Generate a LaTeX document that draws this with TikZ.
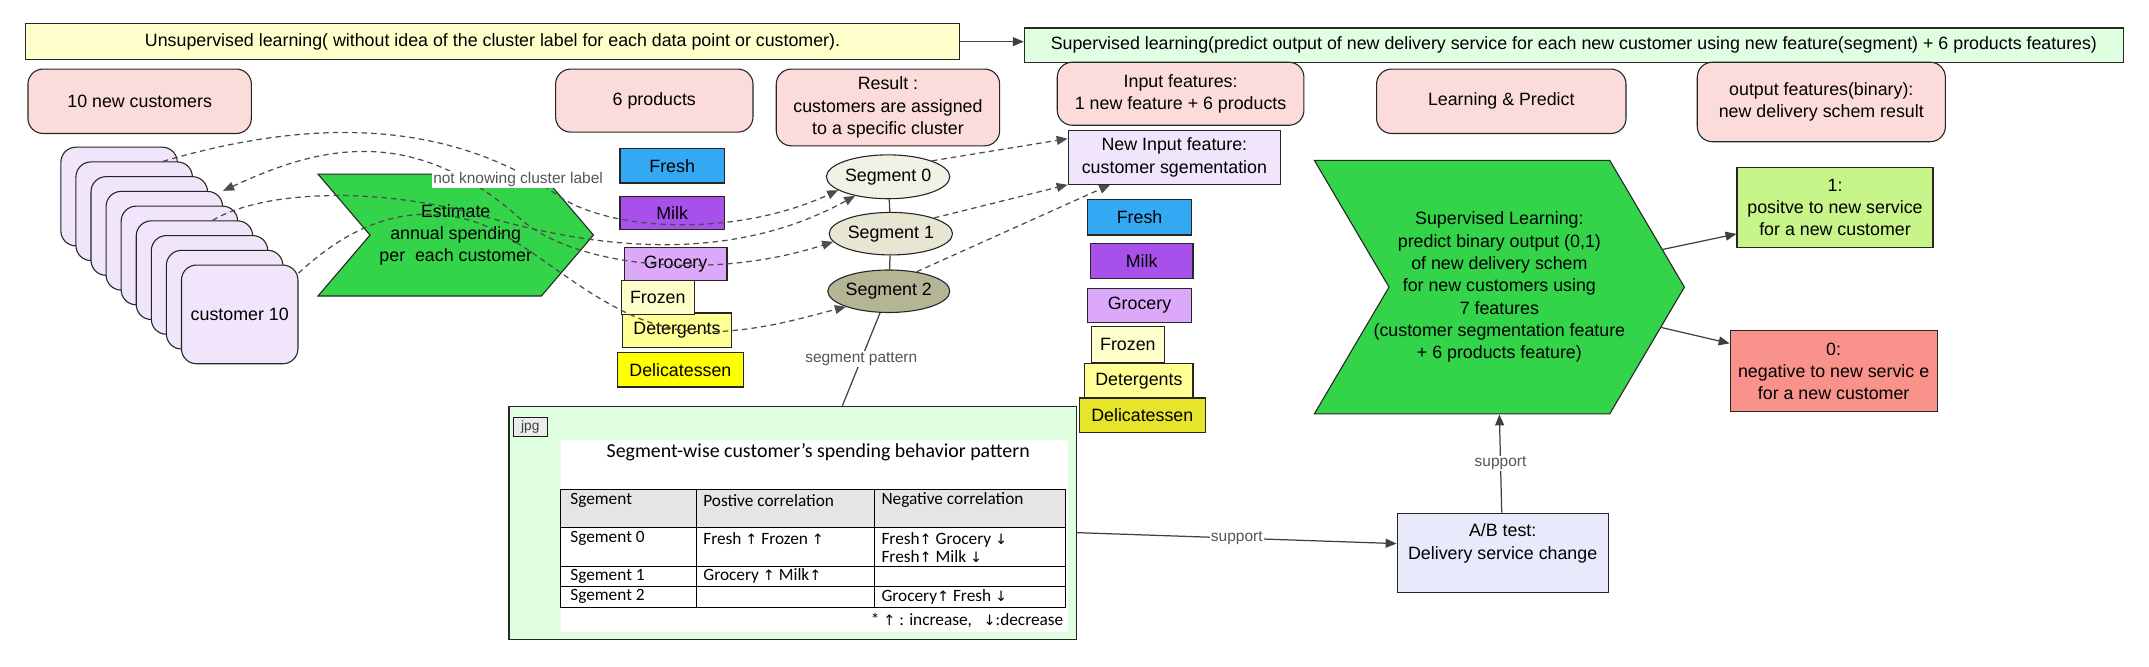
\documentclass[tikz,border=0pt]{standalone}
\usepackage{fontspec}
\setmainfont{Liberation Sans}
\newfontfamily\tabfont{Carlito}
\newfontfamily\arrfont{DejaVu Sans}
\usepackage{tikz}
\usetikzlibrary{positioning, arrows.meta, shapes.symbols, shapes.geometric}

\definecolor{pinkbox}{HTML}{FCDCDA}
\definecolor{lavbox}{HTML}{F1E5FB}
\definecolor{chev}{HTML}{33D44A}
\definecolor{unsup}{HTML}{FFFFCC}
\definecolor{supbar}{HTML}{E0FEE0}
\definecolor{fresh}{HTML}{33A9F4}
\definecolor{milk}{HTML}{A851EA}
\definecolor{grocery}{HTML}{DCA8F9}
\definecolor{frozen}{HTML}{FFFFCC}
\definecolor{deterg}{HTML}{FFFF94}
\definecolor{deli}{HTML}{FFFF00}
\definecolor{delib}{HTML}{E6E52C}
\definecolor{segA}{HTML}{F1F1E5}
\definecolor{segB}{HTML}{E6E6D3}
\definecolor{segC}{HTML}{B3B595}
\definecolor{posbox}{HTML}{C7F58A}
\definecolor{negbox}{HTML}{F8928A}
\definecolor{abbox}{HTML}{E8EAFB}
\definecolor{lblgray}{HTML}{555555}

\newcommand{\incr}{{\arrfont\fontsize{10.5}{10.5}\selectfont ↑}}
\newcommand{\decr}{{\arrfont\fontsize{10.5}{10.5}\selectfont ↓}}

\begin{document}
\begin{tikzpicture}[x=1pt,y=-1pt,
		font=\fontsize{13}{16.3}\selectfont,
		>={Triangle[length=8pt,width=6.5pt]},
		box/.style={draw=black!85,line width=.8pt,inner sep=0pt,align=center,anchor=north west},
		pinky/.style={box,fill=pinkbox,rounded corners=11pt},
		card/.style={box,fill=lavbox,rounded corners=11pt,minimum width=85,minimum height=72},
		prod/.style={box,line width=.9pt},
		seg/.style={ellipse,draw=black!85,line width=.8pt,inner sep=0pt},
		chevron/.style={signal,signal from=west,signal to=east,draw=black!85,fill=chev,line width=.8pt,align=center,inner sep=0pt},
		dashline/.style={draw=black!70,line width=.9pt,dash pattern=on 4pt off 3pt},
		link/.style={draw=black!75,line width=.9pt},
		lbl/.style={font=\fontsize{11.3}{13}\selectfont,text=lblgray,fill=white,inner sep=1pt},
		cell/.style={font=\tabfont\fontsize{12.6}{13.5}\selectfont,anchor=west,inner sep=0pt,align=left}]
	\useasboundingbox (0,0) rectangle (1568,486);

	% top bars
	\node[box,fill=unsup,minimum width=682,minimum height=26] (unsup) at (18,17) {Unsupervised learning( without idea of the cluster label for each data point or customer).};
	\node[box,fill=supbar,minimum width=802,minimum height=25] (sup) at (747,20) {Supervised learning(predict output of new delivery service for each new customer using new feature(segment) + 6 products features)};
	\draw[link,->] (unsup.east) -- (unsup.east -| sup.west);

	% headings
	\node[pinky,minimum width=163,minimum height=47] (ncust) at (20,50) {10 new customers};
	\node[pinky,minimum width=144,minimum height=46] (nprod) at (405,50) {6 products};
	\node[pinky,minimum width=163,minimum height=56] (result) at (566,50) {Result :\\customers are assigned\\to a specific cluster};
	\node[pinky,minimum width=180,minimum height=46] (infeat) at (771,45) {Input features:\\1 new feature + 6 products};
	\node[pinky,minimum width=182,minimum height=47] (lp) at (1004,50) {Learning \& Predict};
	\node[pinky,minimum width=181,minimum height=58] (outfeat) at (1238,45) {output features(binary):\\new delivery schem result};

	% customers
	\node[card] (c1) at (44,107) {};
	\node[card] (c2) at ([shift={(11,10.75)}]c1.north west) {};
	\node[card] (c3) at ([shift={(11,10.75)}]c2.north west) {};
	\node[card] (c4) at ([shift={(11,10.75)}]c3.north west) {};
	\node[card] (c5) at ([shift={(11,10.75)}]c4.north west) {};
	\node[card] (c6) at ([shift={(11,10.75)}]c5.north west) {};
	\node[card] (c7) at ([shift={(11,10.75)}]c6.north west) {};
	\node[card] (c8) at ([shift={(11,10.75)}]c7.north west) {};
	\node[card] (c9) at ([shift={(11,10.75)}]c8.north west) {customer 10};

	\node[chevron,minimum width=201,minimum height=89,signal pointer angle=99] (est) at (332.5,171.5) {Estimate\\annual spending\\per\ \ each customer};

	% products
	\node[prod,fill=fresh,minimum width=76,minimum height=25] (fresh) at (452,108) {Fresh};
	\node[prod,fill=milk,minimum width=76,minimum height=24] (milk) at (452,143) {Milk};
	\node[prod,fill=grocery,minimum width=75,minimum height=24] (groc) at (455,180) {Grocery};
	\node[prod,fill=deterg,minimum width=79,minimum height=25] (det) at (454,228) {Detergents};
	\node[prod,fill=frozen,minimum width=53,minimum height=25] (froz) at (453,204) {Frozen};
	\node[prod,fill=deli,minimum width=92,minimum height=25] (deli) at (450,257) {Delicatessen};

	% clusters
	\node[seg,fill=segA,minimum width=90,minimum height=32] (s0) at (648,129) {Segment 0};
	\node[seg,fill=segB,minimum width=90,minimum height=31] (s1) at (650,170.5) {Segment 1};
	\node[seg,fill=segC,minimum width=89,minimum height=31] (s2) at (648.5,212.5) {Segment 2};
	\draw[link] (s0) -- (s1) (s1) -- (s2);

	% new features
	\node[box,fill=lavbox,minimum width=155,minimum height=39] (nif) at (779,95) {New Input feature:\\customer sgementation};
	\node[prod,fill=fresh,minimum width=76,minimum height=26] (fresh2) at (793,145) {Fresh};
	\node[prod,fill=milk,minimum width=75,minimum height=26] (milk2) at (795,177) {Milk};
	\node[prod,fill=grocery,minimum width=76,minimum height=25] (groc2) at (793,210) {Grocery};
	\node[prod,fill=frozen,minimum width=53,minimum height=26] (froz2) at (796,238) {Frozen};
	\node[prod,fill=deterg,minimum width=79,minimum height=25] (det2) at (791,265) {Detergents};
	\node[prod,fill=delib,minimum width=92,minimum height=25] (deli2) at (787,290) {Delicatessen};

	% supervised part
	\node[chevron,inner xsep=-12pt,minimum width=270,minimum height=185,signal pointer angle=119] (sl) at (1094,209.5) {Supervised Learning:\\predict binary output (0,1)\\of new delivery schem\\for new customers using\\7 features\\(customer segmentation feature\\+ 6 products feature)};
	\node[box,fill=posbox,minimum width=143,minimum height=58] (pos) at (1267,122) {1:\\positve to new service\\for a new customer};
	\node[box,fill=negbox,minimum width=151,minimum height=59] (neg) at (1262,241) {0:\\negative to new servic e\\for a new customer};
	\draw[link,->] (sl.13) -- (pos.195);
	\draw[link,->] (sl.-14) -- (neg.165);
	\node[box,fill=abbox,minimum width=154,minimum height=58] (ab) at (1019,374) {A/B test:\\Delivery service change\\ \mbox{}};
	\draw[link,->] (ab) -- node[lbl] {support} (sl.south);

	% pattern picture
	\node[box,fill=supbar,minimum width=414,minimum height=170] (jpg) at (371,296) {};
	\fill[white] (409,321) rectangle (779,461);
	\node[box,fill=black!8,draw=black!90,minimum width=25,minimum height=14,font=\fontsize{10}{10}\selectfont,text=black!75] (tag) at (374,304) {jpg};
	\node[font=\tabfont\fontsize{14.5}{17}\selectfont] (ttl) at (597,330) {Segment-wise customer’s spending behavior pattern};
	\fill[black!10] (409,357) rectangle (777,385);
	\draw[line width=.6pt] (409,357) rectangle (777,443);
	\draw[line width=.6pt] (409,385) -- (777,385) (409,413) -- (777,413) (409,428) -- (777,428)
		(508,357) -- (508,443) (638,357) -- (638,443);
	\node[cell] (h1) at (416,365) {Sgement};
	\node[cell] (h2) at (513,365) {Postive correlation};
	\node[cell] (h3) at (643,365) {Negative correlation};
	\node[cell] (r0a) at (416,393) {Sgement 0};
	\node[cell] (r0b) at (513,393) {Fresh \incr{} Frozen \incr};
	\node[cell] (r0c) at (643,399.5) {Fresh\incr{} Grocery \decr\\Fresh\incr{} Milk \decr};
	\node[cell] (r1a) at (416,420.5) {Sgement 1};
	\node[cell] (r1b) at (513,420.5) {Grocery \incr{} Milk\incr};
	\node[cell] (r2a) at (416,435.5) {Sgement 2};
	\node[cell] (r2c) at (643,435.5) {Grocery\incr{} Fresh \decr};
	\node[cell,anchor=east] (note) at (776,452.5) {* \incr{} : increase,\ \ \ \decr:decrease};

	\draw[link] (s2) -- node[lbl] {segment pattern} (jpg.67);
	\draw[link,->] (jpg.-2.5) -- node[lbl] {support} (ab.175);

	% clustering links
	\draw[dashline,->] (c2.60) .. controls (230,85) and (330,88) .. (409,144) .. controls (450,170) and (540,172) .. (s0.195);
	\draw[dashline,<->] (c4.north east) .. controls (230,108) and (300,88) .. (380,160) .. controls (420,195) and (520,205) .. (s1.188);
	\draw[dashline,->] (c6.70) .. controls (190,140) and (270,135) .. (350,157) .. controls (410,174) and (520,200) .. (s0.210);
	\draw[dashline,->] (c9.35) .. controls (260,160) and (300,150) .. (340,160) .. controls (390,172) and (440,240) .. (510,242) .. controls (550,243) and (585,232) .. (s2.200);
	\node[lbl] (nolbl) at (378,131) {not knowing cluster label};
	\draw[dashline,->] (s0.20) -- (nif.170);
	\draw[dashline,->] (s1.20) -- (nif.south west);
	\draw[dashline,->] (s2.35) -- (nif.-157);
\end{tikzpicture}
\end{document}
